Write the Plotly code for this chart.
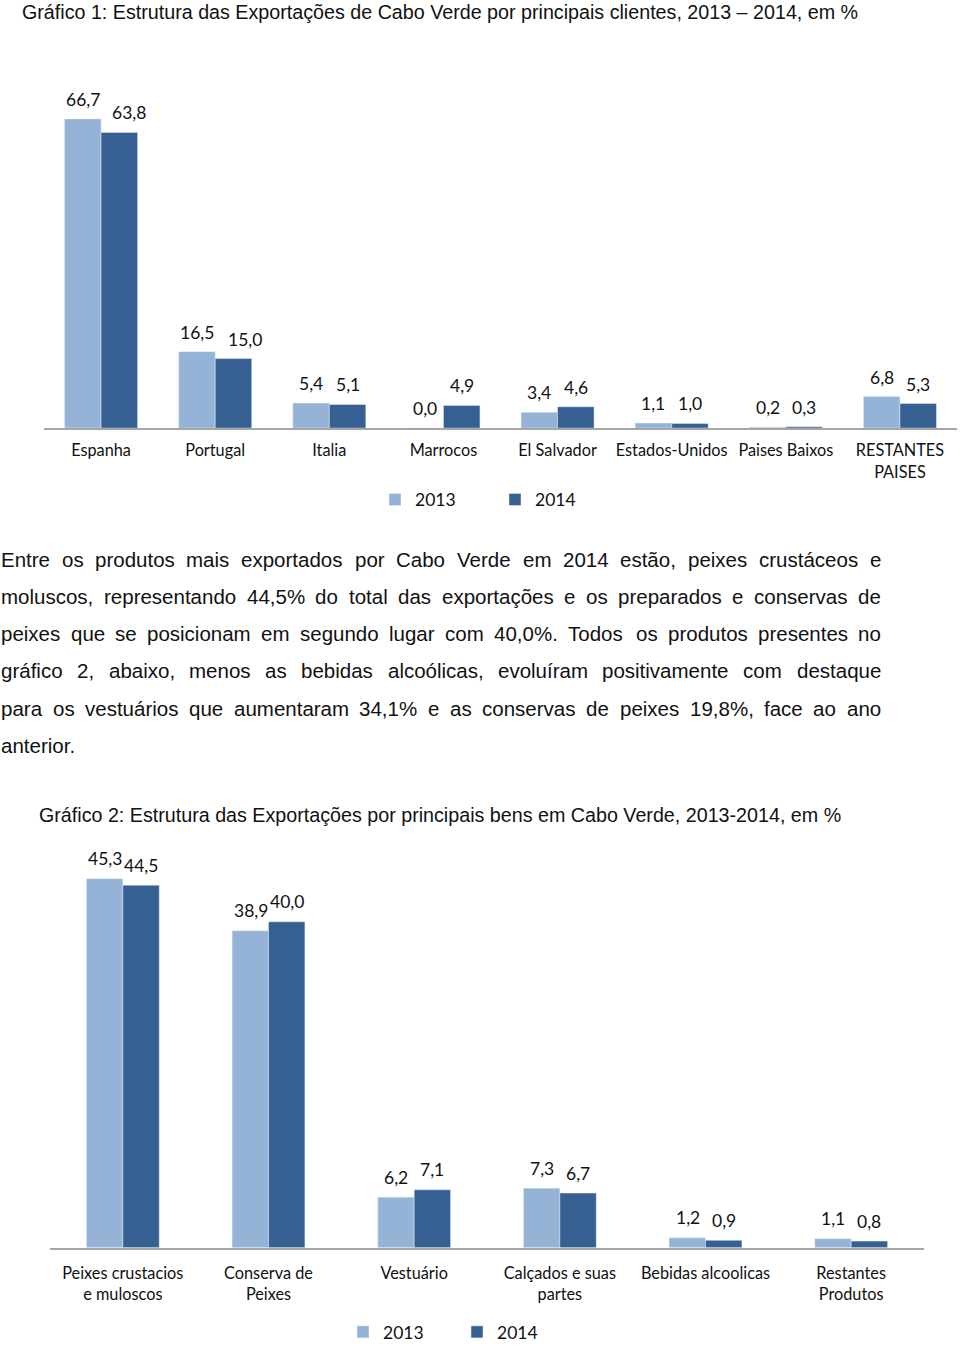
import plotly.graph_objects as go

# ---------------- data ----------------
clientes = ["Espanha", "Portugal", "Italia", "Marrocos", "El Salvador",
            "Estados-Unidos", "Paises Baixos", "RESTANTES<br>PAISES"]
clientes_2013 = [66.7, 16.5, 5.4, 0.0, 3.4, 1.1, 0.2, 6.8]
clientes_2014 = [63.8, 15.0, 5.1, 4.9, 4.6, 1.0, 0.3, 5.3]

bens = ["Peixes crustacios<br>e muloscos", "Conserva de<br>Peixes", "Vestuário",
        "Calçados e suas<br>partes", "Bebidas alcoolicas", "Restantes<br>Produtos"]
bens_2013 = [45.3, 38.9, 6.2, 7.3, 1.2, 1.1]
bens_2014 = [44.5, 40.0, 7.1, 6.7, 0.9, 0.8]

titulo1 = "Gráfico 1: Estrutura das Exportações de Cabo Verde por principais clientes, 2013 – 2014, em %"
titulo2 = "Gráfico 2: Estrutura das Exportações por principais bens em Cabo Verde, 2013-2014, em %"
paragrafo = [
    "Entre os produtos mais exportados por Cabo Verde em 2014 estão, peixes crustáceos e",
    "moluscos, representando 44,5% do total das exportações e os preparados e conservas de",
    "peixes que se posicionam em segundo lugar com 40,0%. Todos os produtos presentes no",
    "gráfico 2, abaixo, menos as bebidas alcoólicas, evoluíram positivamente com destaque",
    "para os vestuários que aumentaram 34,1% e as conservas de peixes 19,8%, face ao ano",
    "anterior.",
]

# ---------------- style ----------------
W, H = 960, 1350
C13 = "#95b3d7"
C14 = "#376092"
AXC = "#a6a6a6"
LBL_FONT = "Lato, 'Open Sans', sans-serif"
TXT_FONT = "'Liberation Sans', Arial, sans-serif"
LBL_SIZE = 17.5
TICK_SIZE = 16.3
TXT_COLOR = "#111111"


def py(px):
    return 1 - px / H


def fmt(v):
    return f"{v:.1f}".replace(".", ",")


fig = go.Figure()

# chart 1
w1 = 0.32
fig.add_trace(go.Bar(x=clientes, y=clientes_2013, name="2013", marker_color=C13,
                     width=w1, offset=-w1, xaxis="x", yaxis="y", legend="legend"))
fig.add_trace(go.Bar(x=clientes, y=clientes_2014, name="2014", marker_color=C14,
                     width=w1, offset=0, xaxis="x", yaxis="y", legend="legend"))
# chart 2
w2 = 0.25
fig.add_trace(go.Bar(x=bens, y=bens_2013, name="2013", marker_color=C13,
                     width=w2, offset=-w2, xaxis="x2", yaxis="y2", legend="legend2"))
fig.add_trace(go.Bar(x=bens, y=bens_2014, name="2014", marker_color=C14,
                     width=w2, offset=0, xaxis="x2", yaxis="y2", legend="legend2"))

annotations = []
lbl_font = dict(family=LBL_FONT, size=LBL_SIZE, color=TXT_COLOR)

# data labels chart 1
bw1 = 36.5
nudge1 = {0: 10, 1: 12}  # Excel manually moved these labels
for i, (c, a, b) in enumerate(zip(clientes, clientes_2013, clientes_2014)):
    annotations.append(dict(x=c, y=a, xref="x", yref="y", text=fmt(a), showarrow=False,
                            xshift=-bw1 / 2, yshift=7, yanchor="bottom", font=lbl_font))
    annotations.append(dict(x=c, y=b, xref="x", yref="y", text=fmt(b), showarrow=False,
                            xshift=bw1 / 2 + nudge1.get(i, 0), yshift=7, yanchor="bottom",
                            font=lbl_font))
# data labels chart 2
bw2 = 36
for c, a, b in zip(bens, bens_2013, bens_2014):
    annotations.append(dict(x=c, y=a, xref="x2", yref="y2", text=fmt(a), showarrow=False,
                            xshift=-bw2 / 2, yshift=7.5, yanchor="bottom", font=lbl_font))
    annotations.append(dict(x=c, y=b, xref="x2", yref="y2", text=fmt(b), showarrow=False,
                            xshift=bw2 / 2, yshift=7.5, yanchor="bottom", font=lbl_font))

# titles
annotations.append(dict(x=20 / W, y=py(12), xref="paper", yref="paper", text=titulo1,
                        showarrow=False, xanchor="left", yanchor="middle",
                        font=dict(family=TXT_FONT, size=19.7, color=TXT_COLOR)))
annotations.append(dict(x=37 / W, y=py(820), xref="paper", yref="paper", text=titulo2,
                        showarrow=False, xanchor="left", yanchor="middle",
                        font=dict(family=TXT_FONT, size=19.7, color=TXT_COLOR)))

# justified paragraph (Arial metrics, 1/1000 em)
AW = {" ": 278, "!": 278, "%": 889, ",": 278, "-": 333, ".": 278, ":": 278}
for ch in "0123456789":
    AW[ch] = 556
AW.update(dict(A=667, B=667, C=722, D=722, E=667, F=611, G=778, H=722, I=278, J=500, K=667,
               L=556, M=833, N=722, O=778, P=667, Q=778, R=722, S=667, T=611, U=722, V=667,
               W=944, X=667, Y=667, Z=611))
AW.update(dict(a=556, b=556, c=500, d=556, e=556, f=278, g=556, h=556, i=222, j=222, k=500,
               l=222, m=833, n=556, o=556, p=556, q=556, r=333, s=500, t=278, u=556, v=500,
               w=722, x=500, y=500, z=500))
AW.update({"á": 556, "à": 556, "ã": 556, "â": 556, "é": 556, "ê": 556, "í": 278, "ó": 556,
           "õ": 556, "ô": 556, "ú": 556, "ç": 500})
PS = 20.5


def tw(s):
    return sum(AW.get(ch, 556) for ch in s) / 1000 * PS


left, right = 0, 880
for k, line in enumerate(paragrafo):
    ypx = 563 + k * 37.5
    words = line.split(" ")
    if k == len(paragrafo) - 1:
        annotations.append(dict(x=left / W, y=py(ypx), xref="paper", yref="paper", text=line,
                                showarrow=False, xanchor="left", yanchor="middle", borderpad=0,
                                font=dict(family=TXT_FONT, size=PS, color=TXT_COLOR)))
        continue
    total = sum(tw(wd) for wd in words)
    gap = (right - left - total) / (len(words) - 1)
    xcur = left
    for wd in words:
        annotations.append(dict(x=xcur / W, y=py(ypx), xref="paper", yref="paper", text=wd,
                                showarrow=False, xanchor="left", yanchor="middle", borderpad=0,
                                font=dict(family=TXT_FONT, size=PS, color=TXT_COLOR)))
        xcur += tw(wd) + gap

axis_common = dict(showline=True, linecolor=AXC, linewidth=1.5, ticks="", showgrid=False,
                   zeroline=False, tickfont=dict(family=LBL_FONT, size=TICK_SIZE, color=TXT_COLOR),
                   fixedrange=True)

legend_common = dict(orientation="h", xanchor="left", yanchor="middle",
                     font=dict(family=LBL_FONT, size=LBL_SIZE, color=TXT_COLOR),
                     bgcolor="rgba(0,0,0,0)", itemwidth=30, traceorder="normal")

fig.update_layout(
    width=W, height=H,
    margin=dict(l=0, r=0, t=0, b=0),
    paper_bgcolor="white", plot_bgcolor="white",
    barmode="overlay",
    showlegend=True,
    xaxis=dict(domain=[44 / W, 957 / W], anchor="y", ticklabelstandoff=7, **axis_common),
    yaxis=dict(domain=[py(431), py(81)], range=[0, 75], visible=False, anchor="x"),
    xaxis2=dict(domain=[50 / W, 924 / W], anchor="y2", ticklabelstandoff=10, **axis_common),
    yaxis2=dict(domain=[py(1256), py(846)], range=[0, 50], visible=False, anchor="x2"),
    legend=dict(x=375 / W, y=py(503), entrywidth=75, **legend_common),
    legend2=dict(x=343 / W, y=py(1341), entrywidth=69, **legend_common),
    annotations=annotations,
)

fig.write_html("out.html")
